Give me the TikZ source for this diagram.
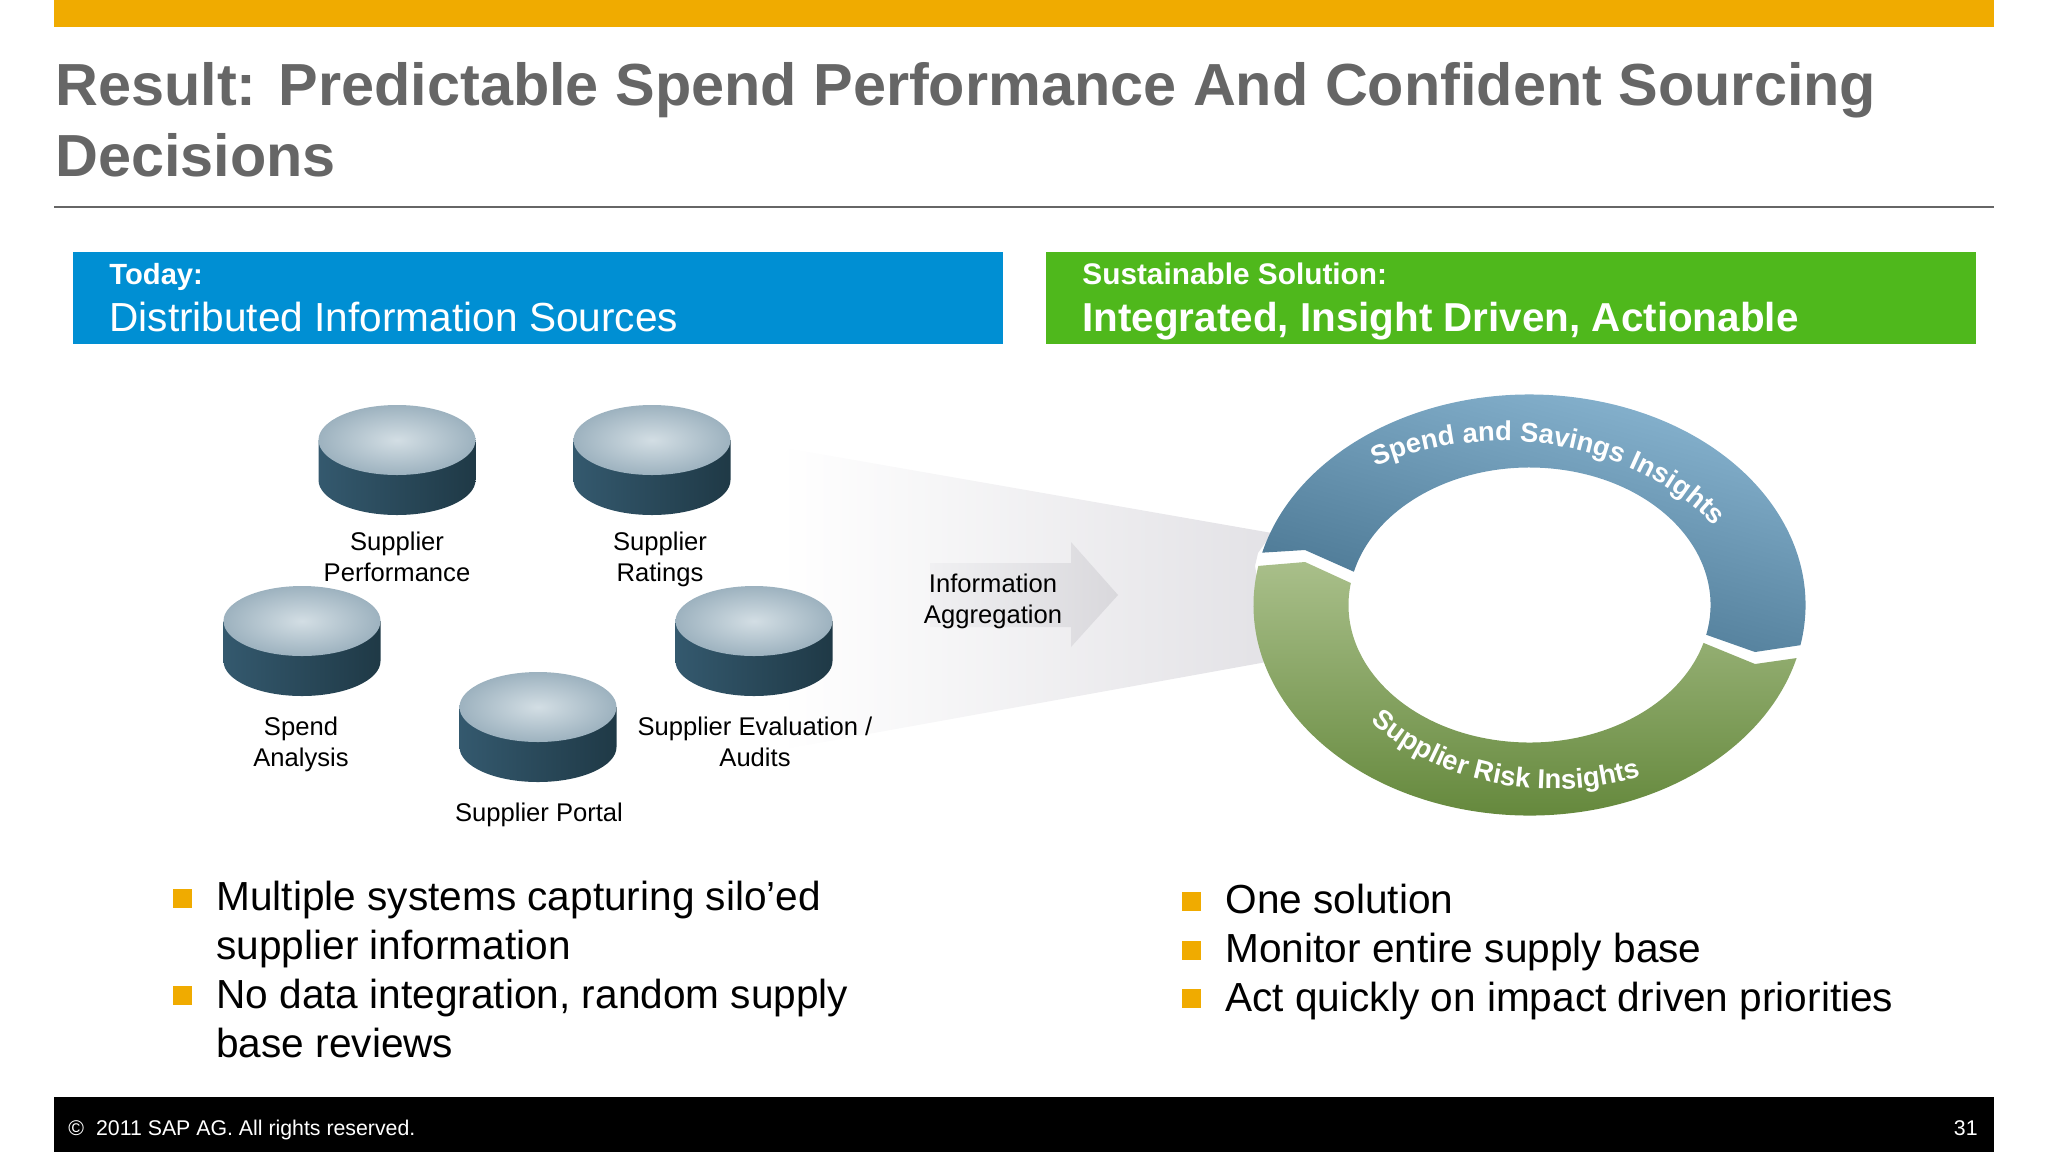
\documentclass[tikz,border=0pt]{standalone}
\usepackage{fontspec}
\setmainfont{Liberation Sans}
\usetikzlibrary{calc,positioning,decorations.text}
\definecolor{barorange}{HTML}{F0AB00}
\definecolor{titlegray}{HTML}{666666}
\definecolor{todayblue}{HTML}{008FD3}
\definecolor{solutiongreen}{HTML}{4FB81C}
\definecolor{drumleft}{HTML}{34596E}
\definecolor{drummid}{HTML}{52839F}
\definecolor{drumright}{HTML}{1F3946}
\definecolor{drumtop}{HTML}{D3DEE4}
\definecolor{drumrim}{HTML}{9DB2BF}
\definecolor{funnelgray}{HTML}{E3E2E6}
\definecolor{arrowlight}{HTML}{F0F0F2}
\definecolor{arrowdark}{HTML}{D9D8DC}
\definecolor{ringbluetop}{HTML}{8DB9D5}
\definecolor{ringbluemid}{HTML}{5A8AA9}
\definecolor{ringbluebot}{HTML}{44708C}
\definecolor{ringgreentop}{HTML}{A9BF8A}
\definecolor{ringgreenmid}{HTML}{93B766}
\definecolor{ringgreenbot}{HTML}{5F8436}
\tikzset{
  headbox/.style={anchor=north west,minimum width=465pt,minimum height=45.75pt,inner sep=0pt},
  headsmall/.style={anchor=base west,inner sep=0pt,text=white,font=\fontsize{14.6}{17}\selectfont\bfseries},
  headlarge/.style={anchor=base west,inner sep=0pt,text=white,font=\fontsize{20.3}{24}\selectfont},
  dblabel/.style={anchor=base,inner sep=0pt,align=center,font=\fontsize{12.8}{15.3}\selectfont},
  square/.style={fill=barorange,inner sep=0pt,minimum size=9.5pt,anchor=north west},
  bullettext/.style={anchor=base west,inner sep=0pt,align=left,font=\fontsize{20.3}{24.4}\selectfont},
  ringtext/.style={decorate,decoration={text along path,text align=center,text color=white,
    text={|\fontsize{13.7}{16}\selectfont\bfseries|#1}}},
  drum/.pic={
    \shade[left color=drumleft,middle color=drummid,right color=drumright]
      (-78.5,0)--(-78.5,40) arc[start angle=180,end angle=360,x radius=39.25pt,y radius=17.5pt]--(78.5,0)--cycle;
    \shade[inner color=drumtop,outer color=drumrim]
      (0,0) ellipse[x radius=39.25pt,y radius=17.5pt];
  }
}
\begin{document}
\begin{tikzpicture}[x=0.5pt,y=-0.5pt]
  \useasboundingbox(0,0) rectangle (2048,1152);
  % header
  \fill[barorange](54,0) rectangle (1994,27);
  \node[anchor=base west,inner sep=0pt,align=left,text=titlegray,font=\fontsize{29.7}{35.5}\selectfont\bfseries](title) at (55,176)
    {Result: Predictable Spend Performance And Confident Sourcing\\Decisions};
  \draw[titlegray,line width=1pt](54,207)--(1994,207);
  \node[headbox,fill=todayblue](today) at (73,252){};
  \node[headbox,fill=solutiongreen](solution) at (1046,252){};
  \node[headsmall](todaya) at (109,284){Today:};
  \node[headlarge](todayb) at (109,331){Distributed Information Sources};
  \node[headsmall,font=\fontsize{14.9}{17}\selectfont\bfseries](solutiona) at (1082,284){Sustainable Solution:};
  \node[headlarge,font=\fontsize{20.2}{24}\selectfont\bfseries](solutionb) at (1082,331){Integrated, Insight Driven, Actionable};
  % aggregation funnel
  \shade[left color=white,right color=funnelgray](780,447)--(1272,533)--(1258,553)--(1255,566)--(1272,661)--(780,750)--cycle;
  \shade[left color=arrowlight,right color=arrowdark]
    (930,563)--(1071,563)--(1071,542)--(1118,595)--(1071,647)--(1071,627)--(930,627)--cycle;
  \node[dblabel](aggregation) at (993,623){Information\\Aggregation};
  % sources
  \pic at (397,440){drum};
  \pic at (652,440){drum};
  \pic at (302,621){drum};
  \pic at (754,621){drum};
  \pic at (538,707){drum};
  \node[dblabel](performance) at (397,581){Supplier\\Performance};
  \node[dblabel](ratings) at (660,581){Supplier\\Ratings};
  \node[dblabel](spend) at (301,766){Spend\\Analysis};
  \node[dblabel](audits) at (755,766){Supplier Evaluation /\\Audits};
  \node[dblabel](portal) at (539,821){Supplier Portal};
  % ring
  \coordinate(RC) at (1529.5,605);
  \coordinate(BA) at ($(RC)+(165.6:138pt and 105.25pt)$);
  \coordinate(BB) at (1755,652);
  \coordinate(BC) at ($(RC)+(-12.5:90.5pt and 68.75pt)$);
  \coordinate(BD) at (1305,550);
  \coordinate(GA) at ($(RC)+(-14.6:138pt and 105.25pt)$);
  \coordinate(GB) at (1305,562);
  \coordinate(GC) at ($(RC)+(170.8:90.5pt and 68.75pt)$);
  \coordinate(GD) at (1755,664);
  \shade[top color=ringbluetop,middle color=ringbluemid,bottom color=ringbluebot,shading angle=-15]
    (BA) arc[start angle=165.6,end angle=-11,x radius=138pt,y radius=105.25pt]--(BB)--(BC)
    arc[start angle=-12.5,end angle=166,x radius=90.5pt,y radius=68.75pt]--(BD)--cycle;
  \shade[top color=ringgreentop,middle color=ringgreenmid,bottom color=ringgreenbot]
    (GA) arc[start angle=-14.6,end angle=-190.7,x radius=138pt,y radius=105.25pt]--(GB)--(GC)
    arc[start angle=-189.2,end angle=-16,x radius=90.5pt,y radius=68.75pt]--(GD)--cycle;
  \path[ringtext={Spend and Savings Insights}]
    (1501,657) ++(118:134pt and 108pt) arc[start angle=118,end angle=37.2,x radius=134pt,y radius=108pt];
  \path[ringtext={Supplier Risk Insights}]
    (1554,600) ++(221.4:119.5pt and 94.5pt) arc[start angle=221.4,end angle=290,x radius=119.5pt,y radius=94.5pt];
  % bullets
  \node[square](sqa) at (173,889){};
  \node[square](sqb) at (173,986){};
  \node[bullettext](ita) at (216,959.5){Multiple systems capturing silo’ed\\supplier information};
  \node[bullettext](itb) at (216,1057){No data integration, random supply\\base reviews};
  \node[square](sqc) at (1182,892){};
  \node[square](sqd) at (1182,941){};
  \node[square](sqe) at (1182,989){};
  \node[bullettext](itc) at (1225,913){One solution};
  \node[bullettext](itd) at (1225,962){Monitor entire supply base};
  \node[bullettext](ite) at (1225,1011){Act quickly on impact driven priorities};
  % footer
  \fill[black](54,1097) rectangle (1994,1152);
  \node[anchor=base west,inner sep=0pt,text=white,font=\fontsize{10.65}{13}\selectfont](copy) at (68,1135){©\hspace{6pt}2011 SAP AG. All rights reserved.};
  \node[anchor=base east,inner sep=0pt,text=white,font=\fontsize{10.65}{13}\selectfont](page) at (1978,1135){31};
\end{tikzpicture}
\end{document}
